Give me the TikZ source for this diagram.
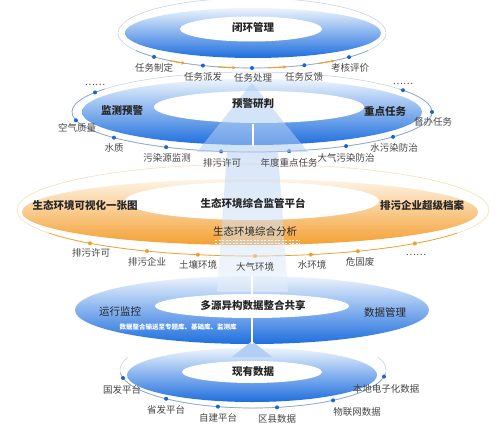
\documentclass[tikz,border=0pt]{standalone}
\usepackage{fontspec}
\setmainfont{Noto Sans CJK SC}
\usetikzlibrary{arrows.meta,calc}
\definecolor{rtop}{RGB}{236,244,253}
\definecolor{rmid}{RGB}{118,174,238}
\definecolor{rbot}{RGB}{30,110,222}
\definecolor{otop}{RGB}{254,244,230}
\definecolor{omid}{RGB}{250,207,145}
\definecolor{obot}{RGB}{244,160,50}
\definecolor{linec}{RGB}{140,165,205}
\definecolor{dotb}{RGB}{25,100,205}
\definecolor{doto}{RGB}{240,158,45}
\definecolor{txt}{RGB}{70,70,70}
\definecolor{arrowb}{RGB}{178,206,243}
\begin{document}
\begin{tikzpicture}[x=1pt,y=-1pt,
  lbl/.style={font=\fontsize{9.5}{10}\selectfont, text=txt, inner sep=0pt},
  ttl/.style={font=\fontsize{10.5}{11}\selectfont\bfseries, text=black!85, inner sep=0pt},
  ttr/.style={font=\fontsize{10.5}{11}\selectfont, text=black!85, inner sep=0pt},
  bdot/.style={circle, fill=dotb, inner sep=0pt, minimum size=4pt},
  odot/.style={circle, fill=doto, inner sep=0pt, minimum size=4pt},
  oarr/.style={draw=doto, line width=1.1pt, -{Stealth[length=3.5pt,width=3.5pt]}},
  blueshade/.style={top color=rtop, middle color=rmid, bottom color=rbot},
  orangeshade/.style={top color=otop, middle color=omid, bottom color=obot},
  thinb/.style={draw=linec!55, line width=0.5pt},
  thinbd/.style={draw=linec, line width=0.7pt},
  gap/.style={draw=white, line width=2pt}
]
\useasboundingbox (0,0) rectangle (503,431);
\fill[white] (0,0) rectangle (503,431);

% ---------- ring 1
\coordinate (c1) at (252,33);
\draw[thinb] (c1) ellipse [x radius=134, y radius=35];
\shade[blueshade] (253,33) ellipse [x radius=128, y radius=25];
\fill[white] (251,29) ellipse [x radius=71, y radius=12.5];
\draw[thinbd] (c1) ++(150:134 and 35) arc[start angle=150, end angle=30, x radius=134, y radius=35];
\node[bdot] (d11) at ($(c1)+(137:134 and 35)$) {};
\node[bdot] (d12) at ($(c1)+(111.5:134 and 35)$) {};
\node[bdot] (d13) at ($(c1)+(90:134 and 35)$) {};
\node[bdot] (d14) at ($(c1)+(67:134 and 35)$) {};
\node[bdot] (d15) at ($(c1)+(43.6:134 and 35)$) {};
\draw[oarr] (c1) ++(128:134 and 35) arc[start angle=128, end angle=120, x radius=134, y radius=35];
\draw[oarr] (c1) ++(105:134 and 35) arc[start angle=105, end angle=97, x radius=134, y radius=35];
\draw[oarr] (c1) ++(83:134 and 35) arc[start angle=83, end angle=75, x radius=134, y radius=35];
\draw[oarr] (c1) ++(60:134 and 35) arc[start angle=60, end angle=52, x radius=134, y radius=35];

% ---------- ring 2
\coordinate (c2) at (252,112);
\draw[thinb] (c2) ellipse [x radius=180, y radius=40];
\shade[blueshade] (c2) ellipse [x radius=170, y radius=33];
\fill[white] (259,107) ellipse [x radius=105, y radius=16];
\draw[thinbd] (c2) ++(215:180 and 40) arc[start angle=215, end angle=-35, x radius=180, y radius=40];
\node[bdot] (d20) at ($(c2)+(209.3:180 and 40)$) {};
\node[bdot] (d21) at ($(c2)+(168:180 and 40)$) {};
\node[bdot] (d22) at ($(c2)+(140.1:180 and 40)$) {};
\node[bdot] (d23) at ($(c2)+(118.5:180 and 40)$) {};
\node[bdot] (d24) at ($(c2)+(99.9:180 and 40)$) {};
\node[bdot] (d25) at ($(c2)+(78.1:180 and 40)$) {};
\node[bdot] (d26) at ($(c2)+(58.5:180 and 40)$) {};
\node[bdot] (d27) at ($(c2)+(38.4:180 and 40)$) {};
\node[bdot] (d28) at ($(c2)+(0:180 and 40)$) {};
\node[bdot] (d29) at ($(c2)+(-33:180 and 40)$) {};

% ---------- ring 3
\coordinate (c3) at (253,210);
\draw[draw=doto!35, line width=0.6pt] (c3) ellipse [x radius=236, y radius=46];
\shade[orangeshade] (250,212) ellipse [x radius=228, y radius=33];
\fill[white] (252,201) ellipse [x radius=127, y radius=19];
\draw[draw=doto, line width=0.7pt] (c3) ++(150:236 and 46) arc[start angle=150, end angle=30, x radius=236, y radius=46];
\node[odot] (d31) at ($(c3)+(133.7:236 and 46)$) {};
\node[odot] (d32) at ($(c3)+(116.7:236 and 46)$) {};
\node[odot] (d33) at ($(c3)+(103.5:236 and 46)$) {};
\node[odot] (d34) at ($(c3)+(89.5:236 and 46)$) {};
\node[odot] (d35) at ($(c3)+(75.8:236 and 46)$) {};
\node[odot] (d36) at ($(c3)+(63.6:236 and 46)$) {};
\node[odot] (d37) at ($(c3)+(46.7:236 and 46)$) {};
\draw[white, line width=0.8pt, dash pattern=on 2pt off 1.5pt] (215,240) -- (300,240);
\draw[white, line width=0.8pt, dash pattern=on 2pt off 1.5pt] (215,243.5) -- (300,243.5);

% ---------- ring 5 (thin line first)
\coordinate (c5) at (253,370);
\draw[thinb] (c5) ++(200:133 and 38) arc[start angle=200, end angle=-20, x radius=133, y radius=38];
\draw[thinbd] (c5) ++(175:133 and 38) arc[start angle=175, end angle=5, x radius=133, y radius=38];

% ---------- ring 4
\shade[blueshade] (252,310) ellipse [x radius=177, y radius=34];
\fill[white] (252,306) ellipse [x radius=97, y radius=12];

% ---------- ring 5 body
\shade[blueshade] (252,375) ellipse [x radius=125, y radius=27];
\fill[white] (252,372) ellipse [x radius=70, y radius=11];
\node[bdot] (d51) at ($(c5)+(167.8:133 and 38)$) {};
\node[bdot] (d52) at ($(c5)+(130.8:133 and 38)$) {};
\node[bdot] (d53) at ($(c5)+(105.3:133 and 38)$) {};
\node[bdot] (d54) at ($(c5)+(79.6:133 and 38)$) {};
\node[bdot] (d55) at ($(c5)+(53:133 and 38)$) {};
\node[bdot] (d56) at ($(c5)+(10:133 and 38)$) {};

% ---------- big arrow
\fill[arrowb, opacity=0.55] (252,83) -- (308,152) -- (279,152) -- (226,152) -- (197,152) -- cycle;
\shade[top color=arrowb, bottom color=arrowb!30, opacity=0.5] (227,152) -- (278,152) -- (288,292) -- (217,292) -- cycle;
\fill[arrowb] (252,341) -- (272,357) -- (232,357) -- cycle;
\draw[gap] (253,124) -- (253,146);
\draw[gap] (252,276) -- (252,294);
\draw[gap] (252,318) -- (252,344);

% ---------- texts ring 1
\node[ttl] (t1) at (253,27) {闭环管理};
\node[lbl] (l11) at (154,68) {任务制定};
\node[lbl] (l12) at (203,77) {任务派发};
\node[lbl] (l13) at (253,78) {任务处理};
\node[lbl] (l14) at (304,77) {任务反馈};
\node[lbl] (l15) at (350,68) {考核评价};

% ---------- texts ring 2
\node[ttl] (t2) at (253,104) {预警研判};
\node[ttl] (t2l) at (122,111) {监测预警};
\node[ttl] (t2r) at (385,111) {重点任务};
\node[lbl] (e21) at (95,85) {……};
\node[lbl] (e22) at (403,84) {……};
\node[lbl] (l21) at (77,128) {空气质量};
\node[lbl] (l22) at (114,148) {水质};
\node[lbl] (l23) at (167,158) {污染源监测};
\node[lbl] (l24) at (222,163) {排污许可};
\node[lbl] (l25) at (289,163) {年度重点任务};
\node[lbl] (l26) at (346,158) {大气污染防治};
\node[lbl] (l27) at (394,148) {水污染防治};
\node[lbl] (l28) at (433,122) {督办任务};

% ---------- texts ring 3
\node[ttl] (t3) at (253,203) {生态环境综合监管平台};
\node[ttl] (t3l) at (85,205) {生态环境可视化一张图};
\node[ttl] (t3r) at (422,205) {排污企业超级档案};
\node[ttr] (t3b) at (255,231) {生态环境综合分析};
\node[lbl] (l31) at (91,253) {排污许可};
\node[lbl] (l32) at (147,262) {排污企业};
\node[lbl] (l33) at (198,265) {土壤环境};
\node[lbl] (l34) at (255,267) {大气环境};
\node[lbl] (l35) at (312,265) {水环境};
\node[lbl] (l36) at (360,262) {危固废};
\node[lbl] (e31) at (416,255) {……};

% ---------- texts ring 4
\node[ttl] (t4) at (253,305) {多源异构数据整合共享};
\node[ttr] (t4l) at (120,312) {运行监控};
\node[ttr] (t4r) at (385,313) {数据管理};
\node[font=\fontsize{6.5}{7}\selectfont\bfseries, text=white, inner sep=0pt] (t4s) at (178,327) {数据整合输送至专题库、基础库、监测库};

% ---------- texts ring 5
\node[ttl] (t5) at (253,372) {现有数据};
\node[lbl] (l51) at (122,390) {国发平台};
\node[lbl] (l52) at (166,410) {省发平台};
\node[lbl] (l53) at (218,418) {自建平台};
\node[lbl] (l54) at (277,419) {区县数据};
\node[lbl] (l55) at (357,412) {物联网数据};
\node[lbl] (l56) at (386,389) {本地电子化数据};
\end{tikzpicture}
\end{document}
